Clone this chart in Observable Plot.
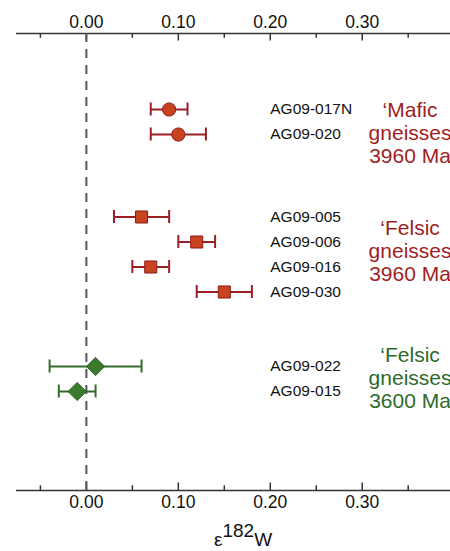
<!DOCTYPE html>
<html>
<head>
<meta charset="utf-8">
<script src="https://cdn.jsdelivr.net/npm/d3@7"></script>
<script src="https://cdn.jsdelivr.net/npm/@observablehq/plot@0.6"></script>
<style>
  html, body { margin: 0; padding: 0; background: #fff; }
  #chart svg { display: block; font-family: "Liberation Sans", Arial, sans-serif; }
</style>
</head>
<body>
<div id="chart"></div>
<script>
// ---- data ----
const samples = ["AG09-017N", "AG09-020", "AG09-005", "AG09-006", "AG09-016", "AG09-030", "AG09-022", "AG09-015"];
const rows    = [0, 1, 4.3, 5.3, 6.3, 7.3, 10.28, 11.28];
const values  = [0.09, 0.10, 0.06, 0.12, 0.07, 0.15, 0.01, -0.01];
const errors  = [0.02, 0.03, 0.03, 0.02, 0.02, 0.03, 0.05, 0.02];
const groups  = ["mafic", "mafic", "felsic3960", "felsic3960", "felsic3960", "felsic3960", "felsic3600", "felsic3600"];

const groupKeys   = ["mafic", "felsic3960", "felsic3600"];
const groupLabels = ["\u2018Mafic\ngneisses\n3960 Ma", "\u2018Felsic\ngneisses\n3960 Ma", "\u2018Felsic\ngneisses\n3600 Ma"];
const groupRows   = [0.94, 5.66, 10.74];

const majorTicks = [0, 0.1, 0.2, 0.3];
const minorTicks = [-0.05, 0.05, 0.15, 0.25, 0.35];

// ---- styles ----
const style = {
  mafic:      {symbol: "circle",   r: 6.6, fill: "#c8431f", stroke: "#8e1b1b", bar: "#9b1f24", text: "#a01e22"},
  felsic3960: {symbol: "square",   r: 6.8, fill: "#c8431f", stroke: "#8e1b1b", bar: "#9b1f24", text: "#a01e22"},
  felsic3600: {symbol: "diamond2", r: 8.2, fill: "#3c7a2e", stroke: "#2e5f24", bar: "#356b2c", text: "#2e6a2b"}
};

const data = samples.map((s, i) => ({sample: s, row: rows[i], value: values[i], err: errors[i], group: groups[i]}));
const labels = groupKeys.map((g, i) => ({group: g, label: groupLabels[i], row: groupRows[i]}));

const yTop = -3.04, yBottom = 15.24;
const capHalf = 0.26;     // in row units
const majorLen = 0.3, minorLen = 0.19;

const axisColor = "#333";

const marks = [
  // axis lines
  Plot.ruleY([yTop, yBottom], {stroke: axisColor, strokeWidth: 1.5}),
  // ticks top
  Plot.ruleX(majorTicks, {x: d => d, y1: yTop, y2: yTop + majorLen, stroke: axisColor, strokeWidth: 1.5}),
  Plot.ruleX(minorTicks, {x: d => d, y1: yTop, y2: yTop + minorLen, stroke: axisColor, strokeWidth: 1.5}),
  // ticks bottom
  Plot.ruleX(majorTicks, {x: d => d, y1: yBottom, y2: yBottom - majorLen, stroke: axisColor, strokeWidth: 1.5}),
  Plot.ruleX(minorTicks, {x: d => d, y1: yBottom, y2: yBottom - minorLen, stroke: axisColor, strokeWidth: 1.5}),
  // tick labels
  Plot.axisX({anchor: "top", ticks: majorTicks, tickFormat: d3.format(".2f"), tickSize: 0, tickPadding: 6, fontSize: 17.5, color: "#111", label: null}),
  Plot.axisX({anchor: "bottom", ticks: majorTicks, tickFormat: d3.format(".2f"), tickSize: 0, tickPadding: 5, fontSize: 17.5, color: "#111", label: null}),
  // zero dashed line
  Plot.ruleX([0], {y1: yTop, y2: yBottom, stroke: "#555", strokeWidth: 2, strokeDasharray: "9,7"}),
  // error bars
  Plot.ruleY(data, {y: "row", x1: d => d.value - d.err, x2: d => d.value + d.err, stroke: d => style[d.group].bar, strokeWidth: 2}),
  Plot.ruleX(data, {x: d => d.value - d.err, y1: d => d.row - capHalf, y2: d => d.row + capHalf, stroke: d => style[d.group].bar, strokeWidth: 2}),
  Plot.ruleX(data, {x: d => d.value + d.err, y1: d => d.row - capHalf, y2: d => d.row + capHalf, stroke: d => style[d.group].bar, strokeWidth: 2}),
  // markers
  ...groupKeys.map(g => Plot.dot(data.filter(d => d.group === g), {
    x: "value", y: "row", symbol: () => style[g].symbol, r: style[g].r,
    fill: style[g].fill, stroke: style[g].stroke, strokeWidth: 1
  })),
  // sample labels
  Plot.text(data, {x: 0.2, y: "row", text: "sample", textAnchor: "start", fontSize: 15.5, fill: "#111", lineAnchor: "middle"}),
  // group labels
  Plot.text(labels, {x: 0.352, y: "row", text: "label", textAnchor: "middle", fontSize: 21, lineHeight: 1.1, lineAnchor: "middle", fill: d => style[d.group].text})
];

const chart = Plot.plot({
  width: 450,
  height: 551,
  marginTop: 33,
  marginBottom: 61,
  marginLeft: 16,
  marginRight: 0,
  style: {fontFamily: "'Liberation Sans', Arial, sans-serif", background: "#fff", overflow: "hidden"},
  x: {domain: [-0.076, 0.396], axis: null},
  y: {domain: [yTop, yBottom], reverse: true, axis: null},
  symbol: {type: "identity"},
  marks
});

// x-axis title: ε^182 W
const svg = d3.select(chart);
const t = svg.append("text")
  .attr("x", 243)
  .attr("y", 546)
  .attr("text-anchor", "middle")
  .attr("font-size", 19)
  .attr("fill", "#111");
t.append("tspan").text("\u03b5");
t.append("tspan").attr("dy", -9).text("182");
t.append("tspan").attr("dy", 9).text("W");

document.getElementById("chart").appendChild(chart);
</script>
</body>
</html>
